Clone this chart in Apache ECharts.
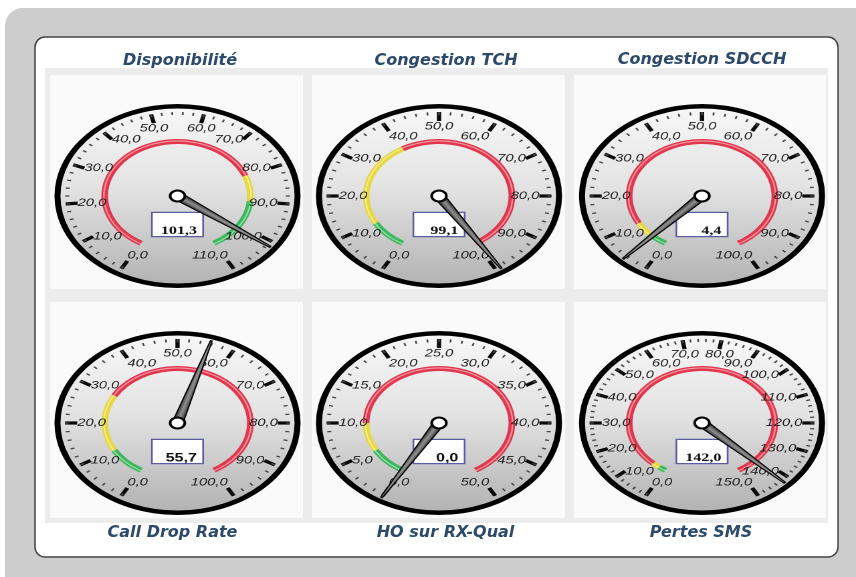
<!DOCTYPE html>
<html>
<head>
<meta charset="utf-8">
<title>Indicateurs réseau</title>
<script src="https://cdn.jsdelivr.net/npm/echarts@6/dist/echarts.min.js"></script>
<style>
  html, body { margin: 0; padding: 0; background: #fff; }
  #wrap { position: relative; width: 856px; height: 577px; overflow: hidden; }
  #frame { position: absolute; left: 0; top: 0; width: 856px; height: 577px; }
  /* echarts gauges are round: stretch them sideways to get the oval dials */
  #dials { position: absolute; left: 0; top: 0; width: 640px; height: 577px; transform: scaleX(1.3375); transform-origin: 0 0; }
</style>
</head>
<body>
<div id="wrap">
  <div id="frame"></div>
  <div id="dials"></div>
</div>
<script>
const titles = ['Disponibilité', 'Congestion TCH', 'Congestion SDCCH', 'Call Drop Rate', 'HO sur RX-Qual', 'Pertes SMS'];
const values = [101.3, 99.1, 4.4, 55.7, 0.0, 142.0];
const maxValues = [110, 100, 100, 100, 50, 150];
const splitCounts = [11, 10, 10, 10, 10, 15];
// limits of the coloured zones of each dial
const firstLimit = [80, 10, 5, 10, 5, 3];
const secondLimit = [90, 40, 10, 30, 10, 6];
// Disponibilité : high is good, the others : low is good
const goodSide = ['high', 'low', 'low', 'low', 'low', 'low'];

// layout
const STRETCH = 1.3375;
const dialX = [177.5, 439, 702];
const dialY = [196, 423];
const titleX = [180, 446, 702, 172.5, 445.5, 701];
const titleY = [61, 61, 60, 533, 533, 533];
const valueFont = ['"Liberation Serif"', '"Liberation Serif"', '"Liberation Serif"', '"Liberation Sans"', '"Liberation Sans"', '"Liberation Serif"'];

const RED = '#e2364c';
const YELLOW = '#e6d83e';
const GREEN = '#3cb95c';

const fmt = v => Number(v).toFixed(1).replace('.', ',');

// ---- frame, cells and titles
const frame = echarts.init(document.getElementById('frame'));
const elements = [
    { type: 'rect', shape: { x: 5, y: 8, width: 900, height: 620, r: 18 }, style: { fill: '#cdcdcd' } },
    { type: 'rect', shape: { x: 35, y: 37, width: 803, height: 520, r: 10 }, style: { fill: '#fff', stroke: '#444', lineWidth: 1.5 } },
    { type: 'rect', shape: { x: 45, y: 68, width: 783, height: 455 }, style: { fill: '#ececec' } }
];
const cellX = [50, 312, 574];
const cellW = [253, 253, 252];
const cellY = [75, 302];
const cellH = [214, 216];
for (let r = 0; r < 2; r++) {
    for (let c = 0; c < 3; c++) {
        elements.push({ type: 'rect', shape: { x: cellX[c], y: cellY[r], width: cellW[c], height: cellH[r] }, style: { fill: '#fafafa' } });
    }
}
titles.forEach((t, i) => {
    elements.push({
        type: 'text', x: titleX[i], y: titleY[i],
        style: { text: t, align: 'center', verticalAlign: 'middle', fontFamily: '"DejaVu Sans"', fontSize: 16, fontWeight: 'bold', fontStyle: 'italic', fill: '#2d4a6b' }
    });
});
frame.setOption({ animation: false, graphic: { elements } });

// ---- the six dials
const dials = echarts.init(document.getElementById('dials'), null, { devicePixelRatio: 2 });
const series = [];
titles.forEach((name, i) => {
    const center = [dialX[i % 3] / STRETCH, dialY[Math.floor(i / 3)]];
    const max = maxValues[i];
    const zones = goodSide[i] === 'high'
        ? [[firstLimit[i] / max, RED], [secondLimit[i] / max, YELLOW], [1, GREEN]]
        : [[firstLimit[i] / max, GREEN], [secondLimit[i] / max, YELLOW], [1, RED]];
    const common = {
        type: 'gauge', center, min: 0, max, startAngle: 240, endAngle: -60,
        splitNumber: splitCounts[i], silent: true, animation: false, z: 5,
        title: { show: false }
    };
    const bare = {
        splitLine: { show: false }, axisTick: { show: false }, axisLabel: { show: false },
        pointer: { show: false }, anchor: { show: false }, detail: { show: false },
        data: [{ value: values[i], name }]
    };
    // black rim and grey face
    series.push({
        type: 'pie', center, radius: [0, 92], silent: true, animation: false, z: 1,
        label: { show: false }, labelLine: { show: false },
        itemStyle: { color: '#000', borderWidth: 0 }, data: [1]
    });
    series.push({
        type: 'pie', center, radius: [0, 87.5], silent: true, animation: false, z: 2,
        label: { show: false }, labelLine: { show: false },
        itemStyle: {
            borderWidth: 0,
            color: { type: 'linear', x: 0, y: 0, x2: 0, y2: 1, colorStops: [
                { offset: 0, color: '#f7f7f7' }, { offset: 0.45, color: '#e3e3e3' }, { offset: 1, color: '#b3b3b3' }
            ] }
        },
        data: [1]
    });
    // coloured band + its light middle line
    series.push(Object.assign({}, common, bare, {
        radius: 57,
        axisLine: { show: true, lineStyle: { width: 5, color: zones } }
    }));
    series.push(Object.assign({}, common, bare, {
        radius: 55.6, z: 6,
        axisLine: { show: true, lineStyle: { width: 1.1, color: [[1, 'rgba(255,255,255,0.5)']] } }
    }));
    // ticks, labels, needle and value box
    series.push(Object.assign({}, common, {
        radius: 84, z: 7,
        axisLine: { show: false, lineStyle: { width: 0 } },
        splitLine: { show: true, length: 9, distance: 0, lineStyle: { width: 3.2, color: '#0a0a0a' } },
        axisTick: { show: true, splitNumber: 5, length: 3, distance: 0, lineStyle: { width: 1.3, color: '#444' } },
        axisLabel: {
            show: true, distance: 0, color: '#1e1e1e', fontSize: 11, fontStyle: 'italic',
            fontFamily: '"Liberation Sans", sans-serif',
            formatter: fmt
        },
        pointer: {
            show: true, icon: 'path://M4.2,0 L5.8,0 L10,100 L0,100 Z', length: 86, width: 8,
            offsetCenter: [0, 0], keepAspect: false,
            itemStyle: {
                color: { type: 'linear', x: 0, y: 0, x2: 1, y2: 0, colorStops: [
                    { offset: 0, color: '#222' }, { offset: 0.5, color: '#909090' }, { offset: 1, color: '#222' }
                ] },
                borderColor: '#000', borderWidth: 1
            }
        },
        anchor: {
            show: true, showAbove: true, size: 11, icon: 'circle',
            itemStyle: { color: '#fff', borderColor: '#000', borderWidth: 2 }
        },
        detail: {
            show: true, offsetCenter: [0, 28.5], width: 30, height: 17, padding: [3, 4, 3, 3],
            backgroundColor: '#fff', borderColor: '#5e5ca0', borderWidth: 1.3,
            valueAnimation: false,
            formatter: v => '{v|' + fmt(v) + '}',
            rich: { v: { align: 'right', fontSize: 12, fontWeight: 'bold', fontFamily: valueFont[i], color: '#111' } }
        },
        data: [{ value: values[i], name }]
    }));
});
dials.setOption({ animation: false, series });
</script>
</body>
</html>
